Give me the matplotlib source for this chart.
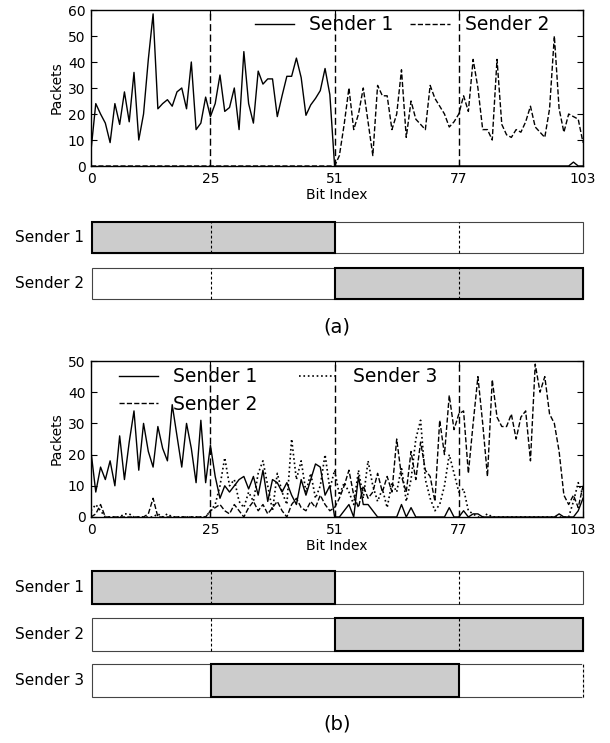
import matplotlib
matplotlib.use('Agg')
import matplotlib.pyplot as plt
from matplotlib.patches import Rectangle

# ---------------- data ----------------
bit_index = list(range(104))
xtick_vals = [0, 25, 51, 77, 103]
boundaries = [25, 51, 77]

top_s1 = [6, 24, 20, 16.5, 9, 24, 16, 28.5, 17, 36, 10, 20, 41, 58.5, 22, 24, 25.5, 23, 28.5, 30,
          22, 40, 14, 16.5, 26.5, 19, 24, 35, 21, 22.5, 30, 14, 44, 24, 16.5, 36.5, 31.5, 33.5, 33.5, 19,
          27, 34.5, 34.5, 41.5, 34, 19.5, 23.5, 26, 29, 37.5, 27.5, 0, 0, 0, 0, 0, 0, 0, 0, 0,
          0, 0, 0, 0, 0, 0, 0, 0, 0, 0, 0, 0, 0, 0, 0, 0, 0, 0, 0, 0,
          0, 0, 0, 0, 0, 0, 0, 0, 0, 0, 0, 0, 0, 0, 0, 0, 0, 0, 0, 0,
          0, 1.5, 0, 0]
top_s2 = [0] * 51 + [0, 4, 16, 30, 14, 20, 30, 17, 4, 31, 27, 27, 14, 20, 37, 11, 25, 18, 16, 14,
                     31, 26, 23, 20, 15, 17, 20, 27, 21, 41, 30, 14, 14, 10, 41, 16, 12, 11, 14, 13,
                     17, 23, 15, 13, 11, 22, 50, 22, 13, 20, 19, 18, 9]

bot_s1 = [21, 8, 16, 12, 18, 10, 26, 12, 24, 34, 15, 30, 21, 16, 29, 22, 18, 36, 26, 16,
          30, 22, 11, 31, 11, 23, 13, 6, 10, 8, 10, 12, 13, 9, 13, 7, 15, 5, 12, 11,
          8, 11, 7, 4, 12, 7, 12, 17, 16, 7, 10, 0, 0, 2, 4, 0, 13, 4, 4, 2,
          0, 0, 0, 0, 0, 4, 0, 3, 0, 0, 0, 0, 0, 0, 0, 3, 0, 0, 2, 0,
          1, 1, 0, 0, 0, 0, 0, 0, 0, 0, 0, 0, 0, 0, 0, 0, 0, 0, 1, 0,
          0, 0, 2, 6]
bot_s2 = [0, 1, 4, 0, 0, 0, 0, 0, 0, 0, 0, 0, 1, 6, 0, 0, 0, 0, 0, 0,
          0, 0, 0, 0, 0, 2, 3, 4, 2, 1, 4, 2, 0, 3, 5, 2, 4, 1, 3, 5,
          2, 0, 4, 6, 3, 2, 5, 3, 7, 4, 2, 3, 6, 10, 15, 7, 3, 10, 6, 8,
          14, 8, 13, 8, 25, 13, 8, 21, 12, 24, 15, 13, 5, 31, 20, 39, 28, 33, 34, 14,
          30, 45, 30, 13, 44, 32, 29, 29, 33, 25, 32, 34, 18, 49, 40, 45, 33, 30, 21, 7,
          4, 7, 3, 10]
bot_s3 = [2, 4, 2, 0, 0, 0, 0, 1, 1, 0, 0, 0, 0, 0, 1, 0, 1, 0, 0, 0,
          0, 0, 0, 0, 0, 2, 4, 10, 19, 10, 12, 5, 3, 8, 5, 14, 18, 10, 2, 14,
          8, 4, 25, 12, 18, 8, 14, 6, 10, 20, 9, 15, 7, 11, 8, 4, 15, 6, 18, 10,
          5, 9, 3, 11, 8, 16, 5, 12, 25, 31, 12, 6, 2, 4, 10, 20, 14, 8, 9, 2,
          1, 0, 0, 1, 0, 0, 0, 0, 0, 0, 0, 0, 0, 0, 0, 0, 0, 0, 0, 0,
          0, 5, 11, 7]

names_a = ['Sender 1', 'Sender 2']
spans_a = [(0, 51), (51, 103)]
names_b = ['Sender 1', 'Sender 2', 'Sender 3']
spans_b = [(0, 51), (51, 103), (25, 77)]
marks_b = [[25, 77], [25, 77], [103]]

# ---------------- layout helpers ----------------
W, H = 610, 743
fig = plt.figure(figsize=(W / 100, H / 100), dpi=100)


def rect(x0, y0, x1, y1):
    return [x0 / W, 1 - y1 / H, (x1 - x0) / W, (y1 - y0) / H]


def style_plot(ax, ymax):
    for b in boundaries:
        ax.axvline(b, color='k', ls=(0, (5, 2.5)), lw=1.0)
    ax.set_xlim(0, 103)
    ax.set_ylim(0, ymax)
    ax.set_xticks(xtick_vals)
    ax.set_yticks(list(range(0, ymax + 1, 10)))
    ax.tick_params(direction='in', top=True, right=True, labelsize=10, length=4, pad=4)
    ax.set_xlabel('Bit Index', fontsize=10, labelpad=2)
    ax.set_ylabel('Packets', fontsize=10, labelpad=3)
    for s in ax.spines.values():
        s.set_linewidth(1.0)


def draw_bar(ax, span, marks, label):
    ax.set_xlim(0, 103)
    ax.set_ylim(0, 1)
    ax.axis('off')
    ax.add_patch(Rectangle((0, 0), 103, 1, facecolor='white', edgecolor='#444444',
                           lw=0.8, clip_on=False, zorder=1))
    ax.add_patch(Rectangle((span[0], 0), span[1] - span[0], 1, facecolor='#cccccc',
                           edgecolor='black', lw=1.5, clip_on=False, zorder=2))
    for m in marks:
        if m >= 103:
            ax.plot([m, m], [0, 1], color='white', lw=1.2, zorder=3, clip_on=False)
        ax.plot([m, m], [0, 1], color='k', ls=(0, (2.5, 2)), lw=0.8, zorder=4, clip_on=False)
    ax.text(-0.016, 0.5, label, transform=ax.transAxes, ha='right', va='center', fontsize=11)


# ---------------- (a) ----------------
ax1 = fig.add_axes(rect(91, 10, 583, 166))
ax1.plot(bit_index, top_s1, color='k', ls='-', lw=1.0, label='Sender 1')
ax1.plot(bit_index, top_s2, color='k', ls='--', lw=1.0, label='Sender 2')
style_plot(ax1, 60)
ax1.legend(loc='upper left', bbox_to_anchor=(0.333, 0.965), ncol=2, frameon=False,
           fontsize=13.5, borderpad=0, borderaxespad=0, handlelength=2.1,
           handletextpad=0.8, columnspacing=0.9)

bar_rows_a = [(222, 253), (268, 299)]
for (y0, y1), name, span in zip(bar_rows_a, names_a, spans_a):
    axb = fig.add_axes(rect(92, y0, 583, y1))
    draw_bar(axb, span, [25, 77], name)

fig.text(337 / W, 1 - 327 / H, '(a)', ha='center', va='center', fontsize=14)

# ---------------- (b) ----------------
ax2 = fig.add_axes(rect(91, 361, 583, 517))
ax2.plot(bit_index, bot_s1, color='k', ls='-', lw=1.0, label='Sender 1')
ax2.plot(bit_index, bot_s2, color='k', ls='--', lw=1.0, label='Sender 2')
ax2.plot(bit_index, bot_s3, color='k', ls=':', lw=1.2, label='Sender 3')
style_plot(ax2, 50)
ax2.legend(loc='upper left', bbox_to_anchor=(0.057, 0.96), ncol=2, frameon=False,
           fontsize=13.5, borderpad=0, borderaxespad=0, handlelength=2.1,
           handletextpad=0.8, columnspacing=2.2, labelspacing=0.45)

bar_rows_b = [(571, 604), (618, 651), (664, 697)]
for (y0, y1), name, span, mk in zip(bar_rows_b, names_b, spans_b, marks_b):
    axb = fig.add_axes(rect(92, y0, 583, y1))
    draw_bar(axb, span, mk, name)

fig.text(337 / W, 1 - 724 / H, '(b)', ha='center', va='center', fontsize=14)

fig.savefig('out.png', dpi=100)
